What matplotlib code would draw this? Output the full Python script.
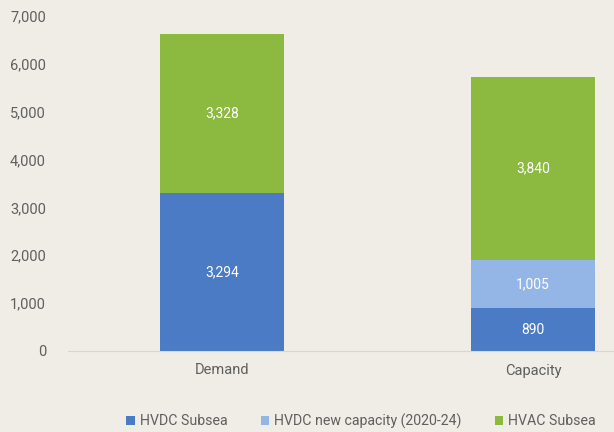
import numpy as np
import matplotlib
matplotlib.use("Agg")
import matplotlib.pyplot as plt

plt.rcParams['font.family'] = ['Roboto', 'DejaVu Sans']

categories = ["Demand", "Capacity"]
series_names = ["HVDC Subsea", "HVDC new capacity (2020-24)", "HVAC Subsea"]
hvdc_subsea = [3294, 890]
hvdc_new = [0, 1005]
hvac_subsea = [3328, 3840]
colors = ["#4a7bc4", "#93b6e6", "#8cb940"]

bg = "#efede6"
txt = "#5f5f5f"

fig = plt.figure(figsize=(6.14, 4.32), dpi=100, facecolor=bg)
ax = fig.add_axes([0.111, 0.1875, 0.889, 0.7755], facecolor=bg)

x = np.arange(len(categories))
w = 0.4
bottom = np.zeros(len(categories))
for name, vals, c in zip(series_names, [hvdc_subsea, hvdc_new, hvac_subsea], colors):
    vals = np.array(vals, dtype=float)
    ax.bar(x, vals, w, bottom=bottom, color=c, label=name)
    for xi, v, b in zip(x, vals, bottom):
        if v > 0:
            ax.text(xi, b + v / 2, f"{int(v):,}", ha="center", va="center",
                    color="white", fontsize=10)
    bottom += vals

ax.set_xlim(-0.495, 1.26)
ax.set_ylim(0, 7000)
ax.set_yticks(np.arange(0, 7001, 1000))
ax.yaxis.set_major_formatter(matplotlib.ticker.FuncFormatter(lambda v, p: f"{int(v):,}"))
ax.set_xticks(x)
ax.set_xticklabels(categories)
ax.tick_params(axis="both", length=0, colors=txt, labelsize=10.5)
ax.tick_params(axis="x", pad=9)
ax.tick_params(axis="y", pad=16)
for s in ["top", "right", "left"]:
    ax.spines[s].set_visible(False)
ax.spines["bottom"].set_color("#d9d7d0")

# legend sits along the bottom edge, last entry runs right up to the side
leg = fig.legend(loc="lower left", bbox_to_anchor=(0.185, -0.022), ncol=3,
                 frameon=False, fontsize=10.2, handlelength=0.6, handleheight=0.6,
                 handletextpad=0.35, columnspacing=2.35)
for t in leg.get_texts():
    t.set_color(txt)

fig.savefig("out.png", dpi=100, facecolor=bg)
